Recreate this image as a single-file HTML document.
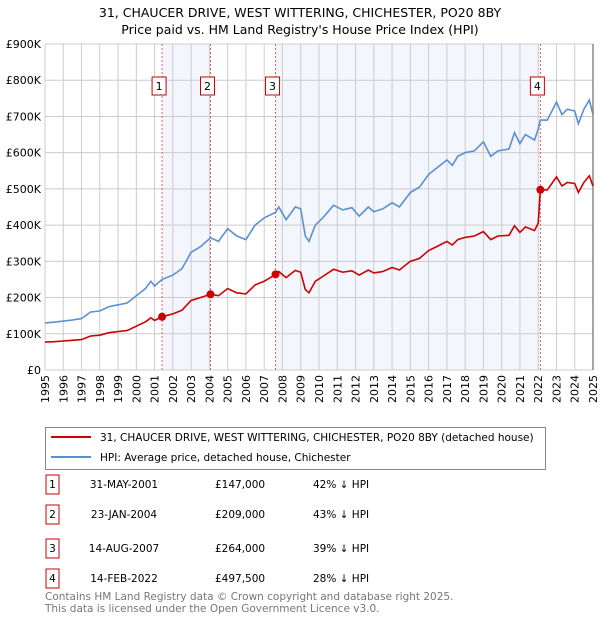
<!DOCTYPE html>
<html><head><meta charset="utf-8"><style>
body{margin:0;background:#fff;font-family:"Liberation Sans","DejaVu Sans",sans-serif;}
svg text{font-family:"DejaVu Sans","Liberation Sans",sans-serif;}
</style></head><body>
<svg id="chart" width="600" height="620" viewBox="0 0 600 620">
<text x="300" y="17" text-anchor="middle" font-size="12.5" fill="#000">31, CHAUCER DRIVE, WEST WITTERING, CHICHESTER, PO20 8BY</text>
<text x="300" y="34" text-anchor="middle" font-size="12.5" fill="#000">Price paid vs. HM Land Registry's House Price Index (HPI)</text>
<g id="plot"></g>
<g>
<rect x="45.5" y="427.5" width="500" height="42" fill="#fff" stroke="#888"/>
<line x1="51" y1="437" x2="91" y2="437" stroke="#cc0000" stroke-width="2"/>
<text x="100" y="441" font-size="10.5">31, CHAUCER DRIVE, WEST WITTERING, CHICHESTER, PO20 8BY (detached house)</text>
<line x1="51" y1="457" x2="91" y2="457" stroke="#5b8fd4" stroke-width="2"/>
<text x="100" y="461" font-size="10.5">HPI: Average price, detached house, Chichester</text>
</g>
<g id="table" font-size="10.5"></g>
<text x="45" y="600" font-size="10.5" fill="#777">Contains HM Land Registry data © Crown copyright and database right 2025.</text>
<text x="45" y="612" font-size="10.5" fill="#777">This data is licensed under the Open Government Licence v3.0.</text>
</svg>
<script>
const years=[1995.0,1995.5,1996.0,1996.5,1997.0,1997.5,1998.0,1998.5,1999.0,1999.5,2000.0,2000.5,2000.8,2001.0,2001.41,2002.0,2002.5,2003.0,2003.5,2004.06,2004.5,2005.0,2005.5,2006.0,2006.5,2007.0,2007.62,2007.8,2008.2,2008.7,2009.0,2009.25,2009.45,2009.8,2010.2,2010.8,2011.3,2011.8,2012.2,2012.7,2013.0,2013.5,2014.0,2014.4,2015.0,2015.5,2016.0,2016.5,2017.0,2017.3,2017.6,2018.0,2018.5,2019.0,2019.4,2019.8,2020.4,2020.7,2021.0,2021.3,2021.8,2022.0,2022.12,2022.5,2023.0,2023.3,2023.6,2024.0,2024.2,2024.5,2024.8,2025.0];
const hpi=[130,132,135,138,142,160,163,175,180,185,205,225,245,232,250,262,280,325,340,365,355,390,370,360,400,420,435,450,415,450,445,370,355,400,420,455,442,448,425,450,437,445,462,450,490,505,540,560,580,565,590,600,605,630,590,605,610,655,625,650,635,665,690,690,740,705,720,715,680,720,745,705];
const price=[77,78,80,82,84,94,96,103,106,109,121,133,144,137,147,155,165,192,200,209,205,225,213,210,235,245,264,272,255,275,270,222,213,245,258,278,270,274,262,276,268,272,283,276,300,308,330,342,355,345,360,366,370,382,360,370,372,398,380,395,385,405,497.5,497,533,508,518,515,490,518,536,508];
const saleYears=[2001.41,2004.06,2007.62,2022.12];
const salePrices=[147,209,264,497.5];
const saleLabels=["1","2","3","4"];
const saleDates=["31-MAY-2001","23-JAN-2004","14-AUG-2007","14-FEB-2022"];
const saleAmounts=["£147,000","£209,000","£264,000","£497,500"];
const saleDiffs=["42% ↓ HPI","43% ↓ HPI","39% ↓ HPI","28% ↓ HPI"];
const yTicks=[0,100,200,300,400,500,600,700,800,900];
const yTickLabels=["£0","£100K","£200K","£300K","£400K","£500K","£600K","£700K","£800K","£900K"];
const xTicks=[1995,1996,1997,1998,1999,2000,2001,2002,2003,2004,2005,2006,2007,2008,2009,2010,2011,2012,2013,2014,2015,2016,2017,2018,2019,2020,2021,2022,2023,2024,2025];

const X0=45,X1=593,Y0=370,Y1=44;
const xs=y=>X0+(y-1995)/30*(X1-X0);
const ys=v=>Y0-v/900*(Y0-Y1);
const NS="http://www.w3.org/2000/svg";
const plot=document.getElementById('plot');
function mk(tag,attrs,parent){const e=document.createElementNS(NS,tag);for(const k in attrs)e.setAttribute(k,attrs[k]);(parent||plot).appendChild(e);return e;}

let e=mk('rect',{x:X0,y:Y1,width:X1-X0,height:Y0-Y1,fill:'#fff'});


e=mk('rect',{x:xs(saleYears[0]),y:Y1,width:xs(saleYears[1])-xs(saleYears[0]),height:Y0-Y1,fill:'#f3f6fd'});


e=mk('rect',{x:xs(saleYears[2]),y:Y1,width:xs(saleYears[3])-xs(saleYears[2]),height:Y0-Y1,fill:'#f3f6fd'});



yTicks.forEach((v,i)=>{
  const l=mk('line',{x1:X0,x2:X1,y1:ys(v),y2:ys(v),stroke:'#ccc','stroke-width':1});
  
  
  const t=mk('text',{x:X0-4,y:ys(v)+4,'text-anchor':'end','font-size':11});
  
  
  t.textContent=yTickLabels[i];
});
xTicks.forEach(yr=>{
  const l=mk('line',{x1:xs(yr),x2:xs(yr),y1:Y1,y2:Y0,stroke:'#ccc','stroke-width':1});
  
  
  const t=mk('text',{x:0,y:0,'text-anchor':'end','font-size':11,transform:`translate(${xs(yr)+4},375) rotate(-90)`});
  
  
  t.textContent=yr;
});
e=mk('line',{x1:X1,x2:X1,y1:Y1,y2:Y0,stroke:'#888','stroke-width':1.5});



saleYears.forEach((yr,i)=>{
  const l=mk('line',{x1:xs(yr),x2:xs(yr),y1:Y1,y2:Y0,stroke:'#e06060','stroke-width':1,'stroke-dasharray':'2,2'});
  
  
  const r=mk('rect',{x:xs(yr)-10,y:77,width:14,height:18,fill:'#fff',stroke:'#cc0000'});
  
  
  const t=mk('text',{x:xs(yr)-3,y:90,'text-anchor':'middle','font-size':11});
  
  
  t.textContent=saleLabels[i];
});

const pathOf=arr=>years.map((y,i)=>(i?'L':'M')+xs(y).toFixed(1)+','+ys(arr[i]).toFixed(1)).join('');
e=mk('path',{d:pathOf(hpi),fill:'none',stroke:'#5b8fd4','stroke-width':1.6});


e=mk('path',{d:pathOf(price),fill:'none',stroke:'#cc0000','stroke-width':1.6});


saleYears.forEach((yr,i)=>{
  const c=mk('circle',{cx:xs(yr),cy:ys(salePrices[i]),r:4,fill:'#cc0000'});
  
  
});

const tbl=document.getElementById('table');
const rowY=[482,512,546,576];
saleLabels.forEach((lab,i)=>{
  const y=rowY[i];
  const r=mk('rect',{x:46,y:y-7,width:13,height:19,fill:'#fff',stroke:'#cc0000'},tbl);
  
  
  const cells=[[52.5,lab,'middle'],[124,saleDates[i],'middle'],[215,saleAmounts[i],'start'],[313,saleDiffs[i],'start']];
  cells.forEach(c=>{
    const t=mk('text',{x:c[0],y:y+6,'text-anchor':c[2]},tbl);
    
    
    t.textContent=c[1];
  });
});
</script>
</body></html>
